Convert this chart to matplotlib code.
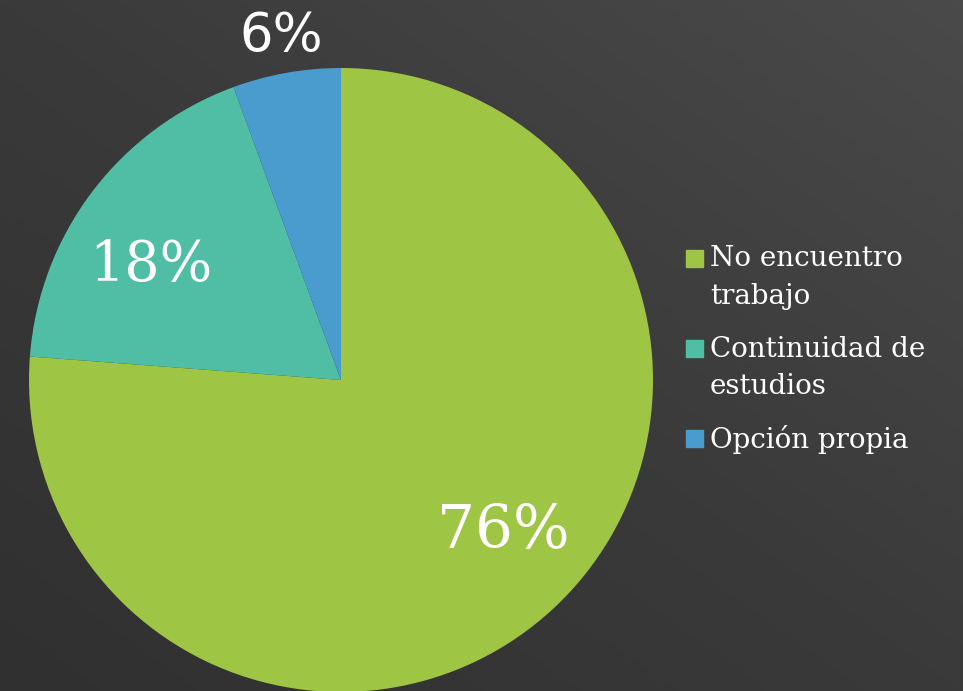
import numpy as np
import matplotlib
matplotlib.use("Agg")
import matplotlib.pyplot as plt
from matplotlib.patches import Rectangle

# Data (shares; labels show rounded values)
labels = ["No encuentro\ntrabajo", "Continuidad de\nestudios", "Opción propia"]
values = [76.2, 18.2, 5.6]
colors = ["#9fc544", "#4fbea5", "#4a9ccf"]

fig = plt.figure(figsize=(9.63, 6.91), dpi=100)

# Background with a soft diagonal gradient
bg = fig.add_axes([0, 0, 1, 1], zorder=-1)
xx, yy = np.meshgrid(np.linspace(0, 1, 200), np.linspace(0, 1, 200))
grad = 0.5 * xx + 0.5 * yy
bg.imshow(grad, cmap=matplotlib.colors.LinearSegmentedColormap.from_list(
    "bg", ["#303030", "#3a3a3a", "#4a4a4a"]), origin="lower",
    extent=[0, 1, 0, 1], aspect="auto")
bg.axis("off")

# Pie axes: center at (341, 380) px, radius 312 px
W, H = 963, 691
r = 312
ax = fig.add_axes([(341 - r) / W, (H - 380 - r) / H, 2 * r / W, 2 * r / H])
wedges, _ = ax.pie(values, colors=colors, startangle=90, counterclock=False,
                   radius=1, wedgeprops=dict(linewidth=0))
ax.set_xlim(-1, 1)
ax.set_ylim(-1, 1)
ax.set_aspect("equal")
ax.axis("off")

# Percent labels (radius, angle offset from wedge middle, font)
label_r = [0.71, 0.71, 1.12]
label_dang = [4.4, 6.1, -0.3]
fonts = [("DejaVu Serif", 43), ("DejaVu Serif", 40), ("DejaVu Sans", 38)]
for w, v, lr, da, (fam, fs) in zip(wedges, values, label_r, label_dang, fonts):
    ang = np.deg2rad((w.theta1 + w.theta2) / 2 + da)
    ax.text(lr * np.cos(ang), lr * np.sin(ang), f"{v:.0f}%", ha="center",
            va="center", color="white", family=fam, fontsize=fs,
            clip_on=False)

# Legend drawn by hand so the square lines up with the first text line
for i, (lab, c) in enumerate(zip(labels, colors)):
    y_top = 250 + 90 * i
    fig.patches.append(Rectangle((686 / W, 1 - (y_top + 17) / H), 17 / W, 17 / H,
                                 transform=fig.transFigure, color=c))
    nlines = lab.count("\n") + 1
    base = y_top + 18 + 36 * (nlines - 1)
    fig.text(710 / W, 1 - base / H, lab, ha="left", va="baseline",
             color="white", family="DejaVu Serif", fontsize=20, linespacing=1.5)

fig.savefig("out.png", dpi=100)
